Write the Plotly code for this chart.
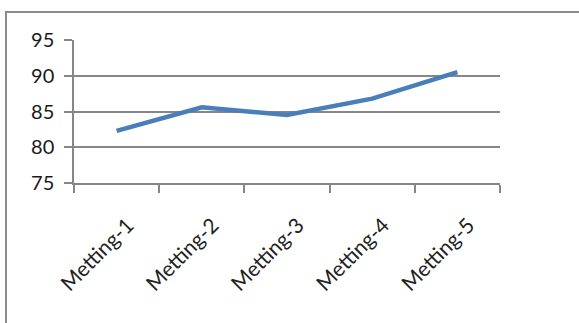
import plotly.graph_objects as go

# Meeting scores
meetings = ["Metting-1", "Metting-2", "Metting-3", "Metting-4", "Metting-5"]
scores = [82.3, 85.6, 84.5, 86.8, 90.5]
y_ticks = [75, 80, 85, 90, 95]

W, H = 579, 323
ML, MR, MT, MB = 74, 79, 40, 140
pw, ph = W - ML - MR, H - MT - MB

fig = go.Figure(
    go.Scatter(
        x=meetings,
        y=scores,
        mode="lines",
        line=dict(color="#4A7EBB", width=4.5),
        hoverinfo="skip",
    )
)

axis_gray = "#878787"
font_family = "Lato, 'Open Sans', sans-serif"

fig.update_xaxes(
    type="category",
    range=[-0.5, 4.5],
    showline=True,
    linecolor=axis_gray,
    linewidth=1.5,
    showgrid=False,
    ticks="outside",
    tickson="boundaries",
    ticklen=8,
    tickcolor=axis_gray,
    tickwidth=1.5,
    tickangle=-45,
    tickfont=dict(family=font_family, size=21, color="#222222"),
    ticklabelstandoff=20,
    ticklabelshift=11,
    zeroline=False,
)
fig.update_yaxes(
    range=[75, 95],
    tickvals=y_ticks,
    showline=True,
    linecolor=axis_gray,
    linewidth=1.5,
    showgrid=True,
    gridcolor=axis_gray,
    gridwidth=1.5,
    ticks="outside",
    ticklen=8,
    tickcolor=axis_gray,
    tickwidth=1.5,
    tickfont=dict(family=font_family, size=20, color="#1a1a1a"),
    ticklabelstandoff=6,
    zeroline=False,
)

# Chart frame: left and top edges of a border that runs off the canvas
x_left = (6 - ML) / pw
y_top = (H - MB - 12) / ph
x_far = (W + 20 - ML) / pw
y_far = (H - MB - (H + 20)) / ph
fig.add_shape(
    type="path",
    xref="paper",
    yref="paper",
    path=f"M {x_far} {y_top} L {x_left} {y_top} L {x_left} {y_far}",
    line=dict(color="#8c8c8c", width=2),
    layer="below",
)

fig.update_layout(
    width=W,
    height=H,
    margin=dict(l=ML, r=MR, t=MT, b=MB),
    paper_bgcolor="white",
    plot_bgcolor="white",
    showlegend=False,
)

fig.write_html("out.html")
